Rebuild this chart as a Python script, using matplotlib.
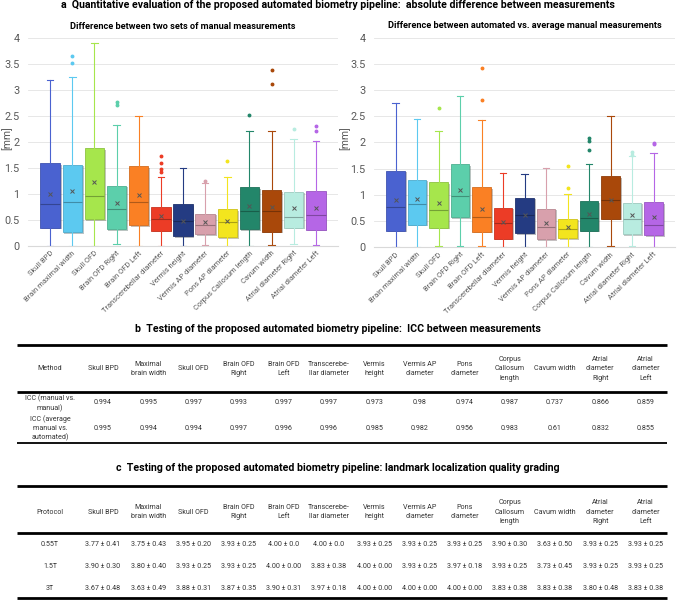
import numpy as np
import matplotlib
matplotlib.use("Agg")
import matplotlib.pyplot as plt
import matplotlib.patheffects as pe
from matplotlib.colors import to_rgb

plt.rcParams['font.family'] = ['Roboto', 'DejaVu Sans']

# --- data -------------------------------------------------------------------
labels = ['Skull BPD', 'Brain maximal width', 'Skull OFD', 'Brain OFD Right',
          'Brain OFD Left', 'Transcerebellar diameter', 'Vermis height',
          'Vermis AP diameter', 'Pons AP diameter', 'Corpus Callosum length',
          'Cavum width', 'Atrial diameter Right', 'Atrial diameter Left']
colors = ['#4a62d0', '#5cc9f0', '#a6e64c', '#5ccfab', '#fa8024', '#ec3c26',
          '#243b82', '#d8a0ac', '#f3e51e', '#23866a', '#a9480a', '#b8ece0',
          '#b566e6']

# manual vs manual
mm_q1 = [0.35, 0.26, 0.51, 0.32, 0.40, 0.29, 0.19, 0.22, 0.17, 0.32, 0.27, 0.35, 0.31]
mm_med = [0.81, 0.84, 0.95, 0.70, 0.85, 0.51, 0.48, 0.39, 0.45, 0.67, 0.67, 0.56, 0.60]
mm_q3 = [1.59, 1.56, 1.88, 1.16, 1.53, 0.74, 0.80, 0.62, 0.71, 1.13, 1.07, 1.04, 1.06]
mm_mean = [0.99, 1.05, 1.23, 0.83, 0.98, 0.57, 0.48, 0.45, 0.47, 0.77, 0.75, 0.73, 0.73]
mm_lo = [0.0, 0.0, 0.0, 0.03, 0.0, 0.0, 0.0, 0.02, 0.0, 0.0, 0.02, 0.03, 0.02]
mm_hi = [3.20, 3.26, 3.90, 2.32, 2.51, 1.33, 1.49, 1.20, 1.33, 2.22, 2.22, 2.06, 2.01]
mm_out = [[], [3.52, 3.66], [], [2.71, 2.77], [], [1.42, 1.47, 1.60, 1.73], [],
          [1.25], [1.63], [2.52], [3.11, 3.39], [2.26], [2.21, 2.31]]

# automated vs average manual
am_q1 = [0.31, 0.43, 0.37, 0.57, 0.29, 0.16, 0.26, 0.15, 0.17, 0.31, 0.54, 0.25, 0.22]
am_med = [0.77, 0.82, 0.71, 0.97, 0.57, 0.45, 0.61, 0.38, 0.35, 0.55, 0.89, 0.54, 0.43]
am_q3 = [1.46, 1.29, 1.24, 1.58, 1.14, 0.75, 0.94, 0.73, 0.54, 0.87, 1.35, 0.85, 0.86]
am_mean = [0.89, 0.91, 0.85, 1.08, 0.73, 0.48, 0.61, 0.45, 0.38, 0.64, 0.89, 0.61, 0.57]
am_lo = [0.0, 0.0, 0.01, 0.02, 0.02, 0.0, 0.0, 0.0, 0.0, 0.0, 0.02, 0.02, 0.0]
am_hi = [2.76, 2.44, 2.22, 2.88, 2.42, 1.42, 1.40, 1.51, 1.02, 1.58, 2.51, 1.73, 1.79]
am_out = [[], [], [2.65], [], [2.80, 3.43], [], [], [], [1.13, 1.55],
          [1.85, 2.03, 2.08], [], [1.76, 1.82], [1.96, 1.98]]

# tables
headers = ['Skull BPD', 'Maximal\nbrain width', 'Skull OFD', 'Brain OFD\nRight',
           'Brain OFD\nLeft', 'Transcerebe-\nllar diameter', 'Vermis\nheight',
           'Vermis AP\ndiameter', 'Pons\ndiameter', 'Corpus\nCallosum\nlength',
           'Cavum width', 'Atrial\ndiameter\nRight', 'Atrial\ndiameter\nLeft']
icc_rows = ['ICC (manual vs.\nmanual)', 'ICC (average\nmanual vs.\nautomated)']
icc_manual = [0.994, 0.995, 0.997, 0.993, 0.997, 0.997, 0.973, 0.98, 0.974, 0.987, 0.737, 0.866, 0.859]
icc_auto = [0.995, 0.994, 0.994, 0.997, 0.996, 0.996, 0.985, 0.982, 0.956, 0.983, 0.61, 0.832, 0.855]

protocols = ['0.55T', '1.5T', '3T']
grade_055 = ['3.77 ± 0.41', '3.75 ± 0.43', '3.95 ± 0.20', '3.93 ± 0.25', '4.00 ± 0.0',
             '4.00 ± 0.0', '3.93 ± 0.25', '3.93 ± 0.25', '3.93 ± 0.25', '3.90 ± 0.30',
             '3.63 ± 0.50', '3.93 ± 0.25', '3.93 ± 0.25']
grade_15 = ['3.90 ± 0.30', '3.80 ± 0.40', '3.93 ± 0.25', '3.93 ± 0.25', '4.00 ± 0.00',
            '3.83 ± 0.38', '4.00 ± 0.00', '3.93 ± 0.25', '3.97 ± 0.18', '3.93 ± 0.25',
            '3.73 ± 0.45', '3.93 ± 0.25', '3.93 ± 0.25']
grade_3 = ['3.67 ± 0.48', '3.63 ± 0.49', '3.88 ± 0.31', '3.87 ± 0.35', '3.90 ± 0.31',
           '3.97 ± 0.18', '4.00 ± 0.00', '4.00 ± 0.00', '4.00 ± 0.00', '3.83 ± 0.38',
           '3.83 ± 0.38', '3.80 ± 0.48', '3.83 ± 0.38']


def darker(c, f=0.75):
    r, g, b = to_rgb(c)
    return (r * f, g * f, b * f)


def draw_boxes(ax, q1, med, q3, mean, lo, hi, out, title):
    stats = []
    for i in range(len(labels)):
        stats.append(dict(q1=q1[i], med=med[i], q3=q3[i], mean=mean[i],
                          whislo=lo[i], whishi=hi[i], fliers=out[i], label=labels[i]))
    pos = np.arange(1, len(labels) + 1)
    bp = ax.bxp(stats, positions=pos, widths=0.88, capwidths=0.3, patch_artist=True,
                showmeans=True, meanline=False)
    for i, c in enumerate(colors):
        box = bp['boxes'][i]
        box.set_facecolor(c)
        box.set_edgecolor(darker(c, 0.85))
        box.set_linewidth(0.6)
        box.set_path_effects([pe.SimplePatchShadow(offset=(1.2, -1.2), alpha=0.3),
                              pe.Normal()])
        for ln in bp['whiskers'][2 * i:2 * i + 2] + bp['caps'][2 * i:2 * i + 2]:
            ln.set_color(c)
            ln.set_linewidth(0.8)
        bp['medians'][i].set_color(darker(c, 0.7))
        bp['medians'][i].set_linewidth(0.8)
        bp['means'][i].set(marker='x', markeredgecolor='#555555', markersize=3.5,
                           markeredgewidth=0.7)
        bp['fliers'][i].set(marker='o', markerfacecolor=c, markeredgecolor=c,
                            markersize=1.8)
    ax.set_xlim(0, len(labels) + 1)
    ax.set_ylim(0, 4)
    ax.set_yticks(np.arange(0, 4.01, 0.5))
    ax.set_yticklabels(['0', '0.5', '1', '1.5', '2', '2.5', '3', '3.5', '4'])
    ax.grid(axis='y', color='#e3e3e3', linewidth=0.6)
    ax.set_axisbelow(True)
    for s in ['top', 'right', 'left']:
        ax.spines[s].set_visible(False)
    ax.spines['bottom'].set_color('#d9d9d9')
    ax.tick_params(axis='y', length=0, labelsize=7.8, labelcolor='#595959', pad=6)
    ax.tick_params(axis='x', length=0, pad=3)
    ax.set_xticks(pos)
    ax.set_xticklabels(labels, rotation=45, ha='right', rotation_mode='anchor',
                       fontsize=5.4, color='#595959')
    ax.set_ylabel('[mm]', fontsize=7.5, color='#595959', labelpad=2)
    ax.set_title(title, fontsize=6.6, fontweight='bold', pad=7)


fig = plt.figure(figsize=(6.77, 6.0), dpi=100)

# overlay for titles and tables, in pixel coordinates
tab = fig.add_axes([0, 0, 1, 1], zorder=-1)
tab.set_xlim(0, 677)
tab.set_ylim(600, 0)
tab.axis('off')

ax1 = fig.add_axes([28 / 677, 1 - 245.7 / 600, 310 / 677, 207.4 / 600])
ax2 = fig.add_axes([374 / 677, 1 - 247 / 600, 301 / 677, 209.3 / 600])
draw_boxes(ax1, mm_q1, mm_med, mm_q3, mm_mean, mm_lo, mm_hi, mm_out,
           'Difference between two sets of manual measurements')
draw_boxes(ax2, am_q1, am_med, am_q3, am_mean, am_lo, am_hi, am_out,
           'Difference between automated vs. average manual measurements')
ax1.yaxis.set_label_coords(-0.05, 0.52)
ax2.yaxis.set_label_coords(-0.08, 0.52)

tab.text(338, 5, 'a  Quantitative evaluation of the proposed automated biometry pipeline:  '
         'absolute difference between measurements', ha='center', va='center',
         fontsize=7.6, fontweight='bold')
tab.text(338, 329, 'b  Testing of the proposed automated biometry pipeline:  ICC between measurements',
         ha='center', va='center', fontsize=7.6, fontweight='bold')
tab.text(338, 468, 'c  Testing of the proposed automated biometry pipeline: landmark localization quality grading',
         ha='center', va='center', fontsize=7.6, fontweight='bold')

col_x = 103 + np.arange(len(headers)) * 45.2
first_x = 50
tcol = '#333333'
fs = 5.1


def table(top, head_y, head_line, rows_y, bottom, first_head, row_names, rows, bottom_lw):
    tab.plot([17, 667], [top, top], color='black', lw=2.0, solid_capstyle='butt')
    tab.plot([17, 667], [head_line, head_line], color='black', lw=2.0, solid_capstyle='butt')
    tab.plot([17, 667], [bottom, bottom], color='black', lw=bottom_lw, solid_capstyle='butt')
    tab.text(first_x, head_y, first_head, ha='center', va='center', fontsize=fs, color=tcol)
    for x, h in zip(col_x, headers):
        tab.text(x, head_y, h, ha='center', va='center', fontsize=fs, color=tcol,
                 linespacing=1.5)
    for y, name, vals in zip(rows_y, row_names, rows):
        tab.text(first_x, y, name, ha='center', va='center', fontsize=fs, color=tcol,
                 linespacing=1.4)
        for x, v in zip(col_x, vals):
            tab.text(x, y, str(v), ha='center', va='center', fontsize=fs, color=tcol)


table(345, 369, 392, [403, 428], 443, 'Method', icc_rows, [icc_manual, icc_auto], 1.3)
table(486, 512, 533, [545, 567, 588], 598, 'Protocol', protocols,
      [grade_055, grade_15, grade_3], 2.0)

fig.savefig('out.png', dpi=100)
